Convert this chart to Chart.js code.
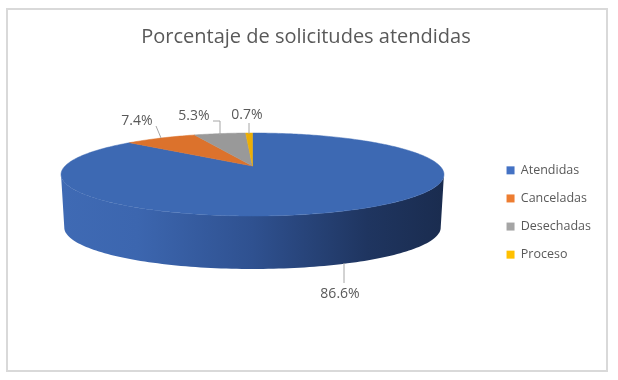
<!DOCTYPE html>
<html>
<head>
<meta charset="utf-8">
<style>
  html, body { margin: 0; padding: 0; background: #ffffff; }
  #frame { position: absolute; left: 6px; top: 8px; width: 598px; height: 360px; border: 2px solid #d9d9d9; }
  canvas { position: absolute; left: 0; top: 0; }
</style>
</head>
<body>
<div id="frame"></div>
<canvas id="pieChart" width="618" height="380"></canvas>
<script src="https://cdn.jsdelivr.net/npm/chart.js@4"></script>
<script>
const categories = ['Atendidas', 'Canceladas', 'Desechadas', 'Proceso'];
const percentages = [86.6, 7.4, 5.3, 0.7];
const legendColors = ['#4472c4', '#ed7d31', '#a5a5a5', '#ffc000'];
const topColors = ['#3d69b3', '#dc722c', '#999999', '#ecae05'];

// Where the tilted pie sits on the page
const view = { cx: 252.5, cy: 166, a: 187.4, b: 39.76, p: -0.205, depth: 53, shrink: 0.983 };
// Label centers and their leader lines, same order as categories
const labelSpots = [
  { x: 340, y: 294, line: [[344, 263], [344, 283]] },
  { x: 137, y: 121, line: [[156, 126], [161, 138]] },
  { x: 194, y: 116, line: [[213, 121], [220, 121], [220, 135]] },
  { x: 247, y: 115, line: [[249, 123], [249, 134]] },
];

const textColor = '#595959';
const fontName = '"Open Sans", sans-serif';

// Perspective projection of a rim point, angle comes from the pie arc
function project(angle, r = 1) {
  const u = Math.cos(angle) * r;
  const v = Math.sin(angle) * r;
  const w = 1 + view.p * v;
  return { x: view.cx + view.a * u / w, y: view.cy + view.b * v / w };
}

function traceSlice(ctx, start, end) {
  const steps = Math.max(2, Math.ceil((end - start) * 60));
  const c = project(0, 0);
  ctx.beginPath();
  ctx.moveTo(c.x, c.y);
  for (let i = 0; i <= steps; i++) {
    const pt = project(start + (end - start) * i / steps);
    ctx.lineTo(pt.x, pt.y);
  }
  ctx.closePath();
}

const tiltedPie = {
  id: 'tiltedPie',
  beforeDatasetsDraw(chart) {
    const ctx = chart.ctx;
    const arcs = chart.getDatasetMeta(0).data;

    // Side wall, the rim is widest a little in front of the middle
    const grad = ctx.createLinearGradient(61, 0, 444, 0);
    grad.addColorStop(0, '#3f6ab4');
    grad.addColorStop(0.2, '#3c66af');
    grad.addColorStop(0.5, '#2f5190');
    grad.addColorStop(0.8, '#1f3560');
    grad.addColorStop(1, '#1a2c4f');
    const from = Math.asin(-view.p);
    const to = Math.PI - from;
    const n = 120;
    ctx.beginPath();
    for (let i = 0; i <= n; i++) {
      const pt = project(from + (to - from) * i / n);
      ctx.lineTo(pt.x, pt.y);
    }
    for (let i = n; i >= 0; i--) {
      const pt = project(from + (to - from) * i / n);
      ctx.lineTo(view.cx + (pt.x - view.cx) * view.shrink, pt.y + view.depth);
    }
    ctx.closePath();
    ctx.fillStyle = grad;
    ctx.fill();

    arcs.forEach((arc, i) => {
      traceSlice(ctx, arc.startAngle, arc.endAngle);
      ctx.fillStyle = topColors[i];
      ctx.fill();
      ctx.strokeStyle = topColors[i];
      ctx.lineWidth = 0.5;
      ctx.stroke();
    });

    // Leader lines and value labels
    ctx.font = '14px ' + fontName;
    ctx.textAlign = 'center';
    ctx.textBaseline = 'middle';
    percentages.forEach((value, i) => {
      const spot = labelSpots[i];
      ctx.beginPath();
      spot.line.forEach(([x, y]) => ctx.lineTo(x, y));
      ctx.strokeStyle = '#a6a6a6';
      ctx.lineWidth = 1;
      ctx.stroke();
      ctx.fillStyle = textColor;
      ctx.fillText(value.toFixed(1) + '%', spot.x, spot.y);
    });
    return false;
  },
};

new Chart(document.getElementById('pieChart'), {
  type: 'pie',
  data: {
    labels: categories,
    datasets: [{ data: percentages, backgroundColor: legendColors, borderWidth: 0 }],
  },
  options: {
    responsive: false,
    animation: false,
    layout: { padding: { top: 25, bottom: 10, left: 11, right: 17 } },
    plugins: {
      tooltip: { enabled: false },
      title: {
        display: true,
        text: 'Porcentaje de solicitudes atendidas',
        color: textColor,
        font: { family: fontName, size: 20, weight: 'normal' },
        padding: { top: 0, bottom: 6 },
      },
      legend: {
        position: 'right',
        fullSize: false,
        labels: {
          boxWidth: 8,
          boxHeight: 8,
          padding: 15.6,
          color: textColor,
          font: { family: fontName, size: 12.5 },
        },
      },
    },
  },
  plugins: [tiltedPie],
});
</script>
</body>
</html>
